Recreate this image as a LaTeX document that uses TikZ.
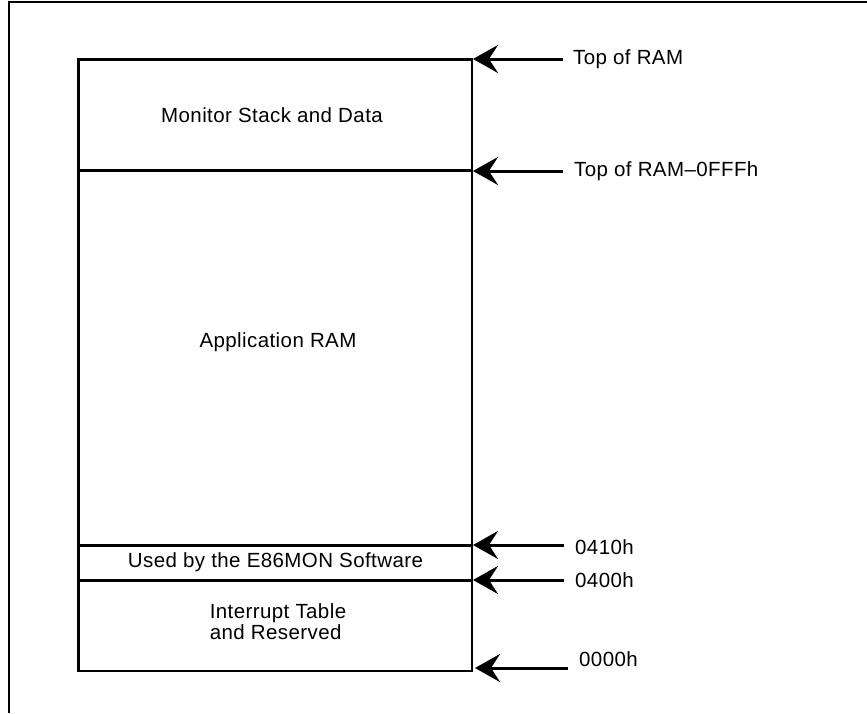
\documentclass[tikz,border=0pt]{standalone}
\usepackage{fontspec}
\setmainfont{Liberation Sans}[LetterSpace=2]
\usetikzlibrary{arrows.meta}
\begin{document}
\begin{tikzpicture}[x=1pt,y=-1pt,
  frame/.style={line width=2pt},
  memblock/.style={line width=2.8pt},
  divider/.style={line width=2.1pt},
  pointer/.style={line width=3pt,-{Stealth[length=25pt,width=28pt,inset=9pt]}},
  region/.style={inner sep=0pt,font=\fontsize{20.5}{21}\selectfont,align=center},
  addr/.style={inner sep=0pt,anchor=west,font=\fontsize{20.5}{21}\selectfont}]
\useasboundingbox (0,0) rectangle (867,713);
% surrounding frame (top and left edges only)
\draw[frame] (8.5,713) -- (8.5,1.5) -- (867,1.5);
% memory map outline
\coordinate (bl) at (78.5,671);
\coordinate (tr) at (472,59.5);
\draw[memblock] (bl) rectangle (tr);
% region boundaries
\coordinate (d1l) at (78.5,170.5);  \coordinate (d1r) at (472,170.5);
\coordinate (d2l) at (78.5,545.5);  \coordinate (d2r) at (472,545.5);
\coordinate (d3l) at (78.5,580.5);  \coordinate (d3r) at (472,580.5);
\draw[divider] (d1l) -- (d1r);
\draw[divider] (d2l) -- (d2r);
\draw[divider] (d3l) -- (d3r);
% region labels
\node[region] (mon) at (272,115.5) {Monitor Stack and Data};
\node[region] (app) at (278,342) {Application RAM};
\node[region] (e86) at (275.5,562.5) {Used by the E86MON Software};
\node[region,align=left] (irq) at (278,622) {Interrupt Table\\and Reserved};
% address labels
\node[addr] (ltop) at (573,59) {Top of RAM};
\node[addr] (lfff) at (574,171) {Top of RAM--0FFFh};
\node[addr] (l410) at (575,547) {0410h};
\node[addr] (l400) at (575,580) {0400h};
\node[addr] (l000) at (579,659) {0000h};
% address pointers
\coordinate (ttop) at (563,59);   \coordinate (htop) at (473,59);
\coordinate (tfff) at (563,171);  \coordinate (hfff) at (473,171);
\coordinate (t410) at (564,545);  \coordinate (h410) at (473,545);
\coordinate (t400) at (564,580);  \coordinate (h400) at (473,580);
\coordinate (t000) at (568,668);  \coordinate (h000) at (475,668);
\draw[pointer] (ttop) -- (htop);
\draw[pointer] (tfff) -- (hfff);
\draw[pointer] (t410) -- (h410);
\draw[pointer] (t400) -- (h400);
\draw[pointer] (t000) -- (h000);
\end{tikzpicture}
\end{document}
